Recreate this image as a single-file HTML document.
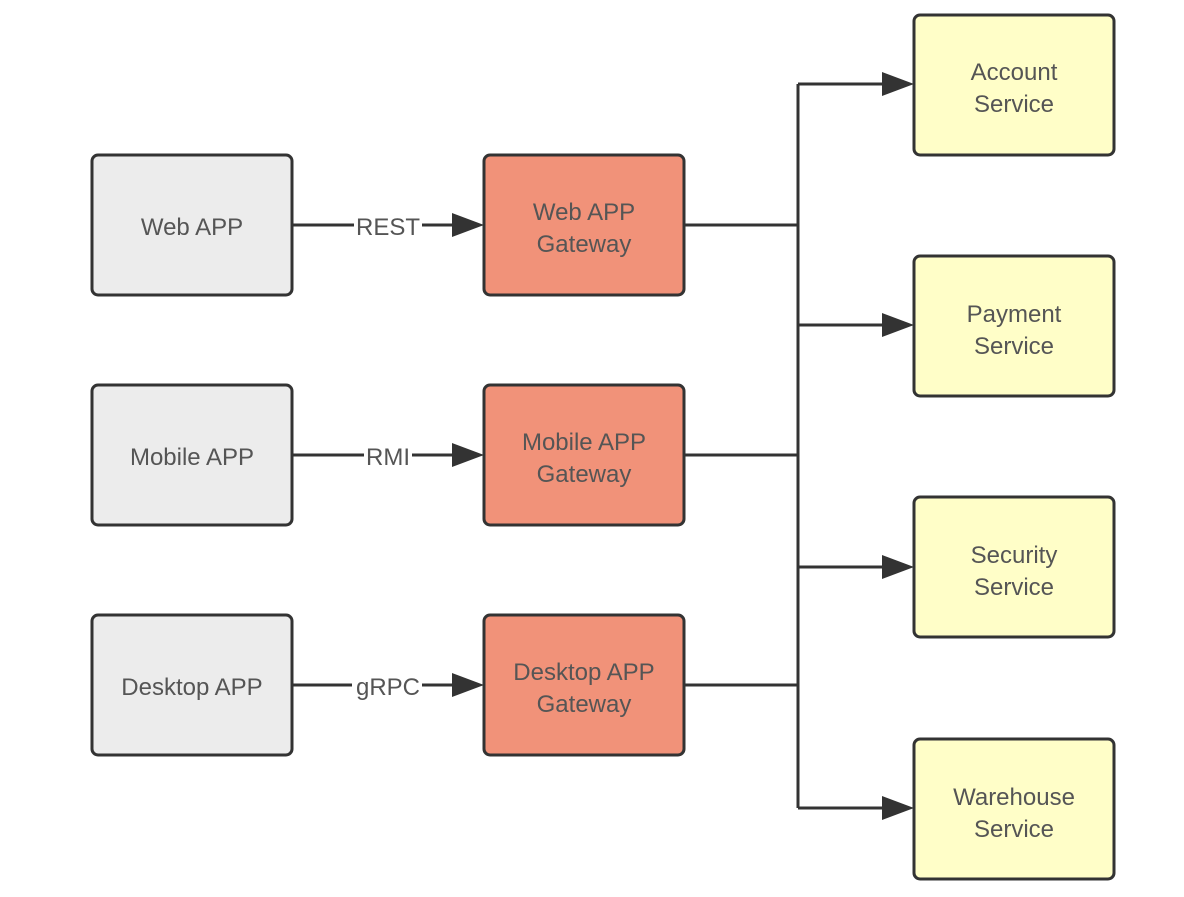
<!DOCTYPE html>
<html><head><meta charset="utf-8"><style>
body{margin:0;background:#fff;width:1184px;height:892px;overflow:hidden}
svg text{font-family:"Liberation Sans",Arial,sans-serif;font-size:24px;fill:#555;text-anchor:middle}
</style></head><body>
<svg width="1184" height="892" viewBox="0 0 1184 892">
<defs><marker id="a" markerWidth="10" markerHeight="8" refX="9" refY="4" orient="auto" markerUnits="userSpaceOnUse"><path d="M0,0 L10,4 L0,8Z" fill="#333" transform="scale(1)"/></marker></defs>
<g stroke="#333" stroke-width="3" fill="none">
<rect x="92" y="155" width="200" height="140" rx="6" fill="#ececec"/>
<rect x="92" y="385" width="200" height="140" rx="6" fill="#ececec"/>
<rect x="92" y="615" width="200" height="140" rx="6" fill="#ececec"/>
<rect x="484" y="155" width="200" height="140" rx="6" fill="#f19279"/>
<rect x="484" y="385" width="200" height="140" rx="6" fill="#f19279"/>
<rect x="484" y="615" width="200" height="140" rx="6" fill="#f19279"/>
<rect x="914" y="15" width="200" height="140" rx="6" fill="#fffec8"/>
<rect x="914" y="256" width="200" height="140" rx="6" fill="#fffec8"/>
<rect x="914" y="497" width="200" height="140" rx="6" fill="#fffec8"/>
<rect x="914" y="739" width="200" height="140" rx="6" fill="#fffec8"/>
<path d="M292 225H452M292 455H452M292 685H452"/>
<path d="M684 225H798M684 455H798M684 685H798M798 84V808"/>
<path d="M798 84H884M798 325H884M798 567H884M798 808H884"/>
</g>
<g fill="#333">
<path d="M452 213L484 225L452 237Z"/><path d="M452 443L484 455L452 467Z"/><path d="M452 673L484 685L452 697Z"/>
<path d="M882 72L914 84L882 96Z"/><path d="M882 313L914 325L882 337Z"/><path d="M882 555L914 567L882 579Z"/><path d="M882 796L914 808L882 820Z"/>
</g>
<rect x="354" y="212" width="68" height="28" fill="#fff"/>
<rect x="364" y="442" width="48" height="28" fill="#fff"/>
<rect x="352" y="672" width="70" height="28" fill="#fff"/>
<text x="388" y="235">REST</text><text x="388" y="465">RMI</text><text x="388" y="695">gRPC</text>
<text x="192" y="235">Web APP</text><text x="192" y="465">Mobile APP</text><text x="192" y="695">Desktop APP</text>
<text x="584" y="220">Web APP</text><text x="584" y="252">Gateway</text>
<text x="584" y="450">Mobile APP</text><text x="584" y="482">Gateway</text>
<text x="584" y="680">Desktop APP</text><text x="584" y="712">Gateway</text>
<text x="1014" y="80">Account</text><text x="1014" y="112">Service</text>
<text x="1014" y="322">Payment</text><text x="1014" y="354">Service</text>
<text x="1014" y="563">Security</text><text x="1014" y="595">Service</text>
<text x="1014" y="805">Warehouse</text><text x="1014" y="837">Service</text>
</svg>
</body></html>
